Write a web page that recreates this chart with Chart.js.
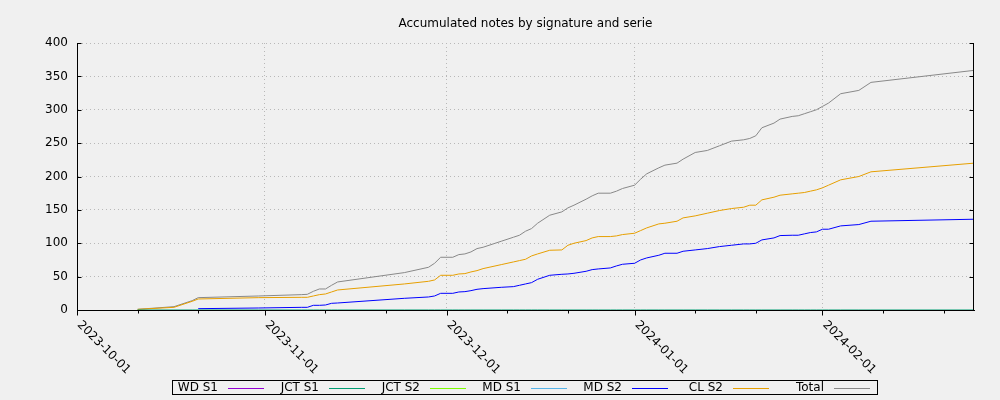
<!DOCTYPE html>
<html><head><meta charset="utf-8">
<script src="https://cdn.jsdelivr.net/npm/chart.js@4.4.1/dist/chart.umd.min.js"></script>
<style>html,body{margin:0;padding:0;background:#f0f0f0;}canvas{display:block;}</style>
</head><body>
<canvas id="c" width="1000" height="400"></canvas>
<script>
// ---- data ----
const titleText = 'Accumulated notes by signature and serie';
const seriesNames = ['WD S1','JCT S1','JCT S2','MD S1','MD S2','CL S2','Total'];
const seriesColors = ['#9400d3','#009e73','#7cfc00','#56b4e9','#0000ff','#e69f00','#888888'];
const dates = ['2023-10-11','2023-10-17','2023-10-20','2023-10-21','2023-10-31','2023-11-07','2023-11-08','2023-11-09','2023-11-10','2023-11-11',
 '2023-11-12','2023-11-13','2023-11-24','2023-11-28','2023-11-29','2023-11-30','2023-12-02','2023-12-03','2023-12-04','2023-12-05',
 '2023-12-06','2023-12-07','2023-12-10','2023-12-12','2023-12-13','2023-12-14','2023-12-15','2023-12-16','2023-12-18','2023-12-20',
 '2023-12-21','2023-12-22','2023-12-24','2023-12-25','2023-12-26','2023-12-28','2023-12-29','2023-12-30','2024-01-01','2024-01-02',
 '2024-01-03','2024-01-05','2024-01-06','2024-01-08','2024-01-09','2024-01-11','2024-01-13','2024-01-15','2024-01-17','2024-01-19',
 '2024-01-20','2024-01-21','2024-01-22','2024-01-24','2024-01-25','2024-01-27','2024-01-28','2024-01-29','2024-01-30','2024-01-31',
 '2024-02-01','2024-02-02','2024-02-04','2024-02-07','2024-02-09','2024-02-26'];
const wdS1 = [];
const jctS1 = [0,0,0,0,0,0,0,0,0,0, 0,0,0,0,0,0,0,0,0,0, 0,0,0,0,0,0,0,0,0,0, 0,0,0,0,0,0,0,0,0,0, 0,0,0,0,0,0,0,0,0,0, 0,0,0,0,0,0,0,0,0,0, 0,0,0,0,0,0];
const jctS2 = [];
const mdS1 = [];
const mdS2 = [null,null,null,2,3,4,4,7,7,7.5, 10,10.5,17.5,19.5,21,25,25,27,27.5,29, 31,32,34,35,37,39,41,46,52,53.5,
 54,55,58,60.5,61.5,63,66,68.5,70,75, 78,82,85,85,88,90,92,95,97,99, 99,100,105,108,111.5,112,112,114,116,117,
 121,121,126,128,133,136];
const clS2 = [1,4,13,16.5,18.5,19,19,21,23,24, 27,30,39,43,45,52,52,54,54.5,57, 59,62,68,72,74,76,81,84,89.5,90,
 97,100,104,108,110,110,111,113,115,119, 123,129,130,133,138,141,145,149,152,154, 157,157,165,169,172,174,175,176,178,180,
 183,187,195,200,207,220];
const total = [1,5,14,18.5,21,23,23.5,28,31.5,31.5, 37,42,56,64,70,79,79,83,84,87, 92,94,103,109,112,118,122,130,142,147,
 153,157,166,171,175,175,178,182,187,196, 204,213,217,220,226,236,239,246,253,255, 257,261,273,280,286,290,291,294,297,300,
 305,310,324,329,341,359];
const xStart = '2023-10-01', xEnd = '2024-02-26';
const xMajorTicks = ['2023-10-01','2023-11-01','2023-12-01','2024-01-01','2024-02-01'];
const xMinorTicks = ['2023-10-11','2023-10-21','2023-11-11','2023-11-21','2023-12-11','2023-12-21','2024-01-11','2024-01-21','2024-02-11','2024-02-21'];
const yTicks = [0,50,100,150,200,250,300,350,400];

// ---- helpers ----
function dayOf(s){const p=s.split('-').map(Number);const b=xStart.split('-').map(Number);
  return Math.round((Date.UTC(p[0],p[1]-1,p[2])-Date.UTC(b[0],b[1]-1,b[2]))/86400000);}
function pts(vals){return vals.map((v,i)=>({x:dayOf(dates[i]),y:v}));}
const allSeries=[wdS1,jctS1,jctS2,mdS1,mdS2,clS2,total];
const FONT='"DejaVu Sans", sans-serif';
Chart.defaults.font.family=FONT;
Chart.defaults.font.size=12;
Chart.defaults.color='#000';
const GRID='#b8b8b8';

const deco={
  id:'deco',
  afterDatasetsDraw(chart){
    const ctx=chart.ctx, a=chart.chartArea, xs=chart.scales.x, ys=chart.scales.y;
    ctx.save();
    ctx.strokeStyle='#000'; ctx.lineWidth=1; ctx.setLineDash([]);
    // right border
    const rx=Math.round(a.right)-0.5;
    ctx.beginPath(); ctx.moveTo(rx,a.top); ctx.lineTo(rx,Math.round(a.bottom)+0.5); ctx.stroke();
    // y tick marks (inside, both sides)
    const lx=Math.round(a.left)+0.5;
    yTicks.forEach(v=>{const y=Math.round(ys.getPixelForValue(v))+0.5;
      ctx.beginPath(); ctx.moveTo(lx,y); ctx.lineTo(lx+4,y); ctx.moveTo(rx,y); ctx.lineTo(rx-4,y); ctx.stroke();});
    // x tick marks (outside)
    const by=Math.round(a.bottom)+0.5;
    xMajorTicks.forEach(d=>{const x=Math.round(xs.getPixelForValue(dayOf(d)))+0.5;
      ctx.beginPath(); ctx.moveTo(x,by); ctx.lineTo(x,by+5); ctx.stroke();});
    xMinorTicks.forEach(d=>{const v=dayOf(d); if(v>xs.max) return; const x=Math.round(xs.getPixelForValue(v))+0.5;
      ctx.beginPath(); ctx.moveTo(x,by); ctx.lineTo(x,by+3); ctx.stroke();});
    // x labels rotated 45deg clockwise
    ctx.fillStyle='#000'; ctx.font='12px '+FONT; ctx.textAlign='left'; ctx.textBaseline='middle';
    xMajorTicks.forEach(d=>{const x=xs.getPixelForValue(dayOf(d));
      ctx.save(); ctx.translate(x+2,a.bottom+13); ctx.rotate(Math.PI/4); ctx.fillText(d,0,0); ctx.restore();});
    // legend
    const bx=172.5, bt=380.5, bw=705, bh=14;
    ctx.strokeRect(bx,bt,bw,bh);
    const step=101, lineStart0=228, lineLen=36, ty=388;
    chart.data.datasets.forEach((ds,i)=>{
      const ls=lineStart0+i*step;
      ctx.fillStyle='#000'; ctx.textAlign='right'; ctx.fillText(ds.label,ls-10,ty);
      ctx.strokeStyle=ds.borderColor; ctx.beginPath(); ctx.moveTo(ls,ty+0.5); ctx.lineTo(ls+lineLen,ty+0.5); ctx.stroke();
    });
    ctx.restore();
  }
};

new Chart(document.getElementById('c'),{
  type:'line',
  data:{datasets:seriesNames.map((n,i)=>({label:n,data:pts(allSeries[i]),borderColor:seriesColors[i],backgroundColor:seriesColors[i],
    borderWidth:1,pointRadius:0,tension:0,fill:false,spanGaps:false}))},
  options:{
    responsive:false, animation:false, events:[],
    layout:{padding:{left:0,right:26,top:0,bottom:0}},
    plugins:{legend:{display:false},tooltip:{enabled:false},
      title:{display:true,text:titleText,fullSize:false,color:'#000',font:{size:12,weight:'normal',family:FONT},padding:{top:17,bottom:11.6}}},
    scales:{
      x:{type:'linear',min:dayOf(xStart),max:dayOf(xEnd),
        afterBuildTicks:s=>{s.ticks=xMajorTicks.map(d=>({value:dayOf(d)}));},
        ticks:{display:false},
        grid:{drawTicks:false,lineWidth:1,color:c=>(c.tick&&c.tick.value===0)?'rgba(0,0,0,0)':GRID},
        border:{display:true,color:'#000',width:1,dash:[1,3]},
        afterFit:s=>{s.height=90;}},
      y:{min:0,max:400,
        afterBuildTicks:s=>{s.ticks=yTicks.map(v=>({value:v}));},
        ticks:{padding:9,color:'#000',font:{size:12,family:FONT}},
        grid:{drawTicks:false,lineWidth:1,color:c=>(c.tick&&c.tick.value===0)?'rgba(0,0,0,0)':GRID},
        border:{display:true,color:'#000',width:1,dash:[1,3]},
        afterFit:s=>{s.width=77;}}
    }
  },
  plugins:[deco]
});
</script>
</body></html>
